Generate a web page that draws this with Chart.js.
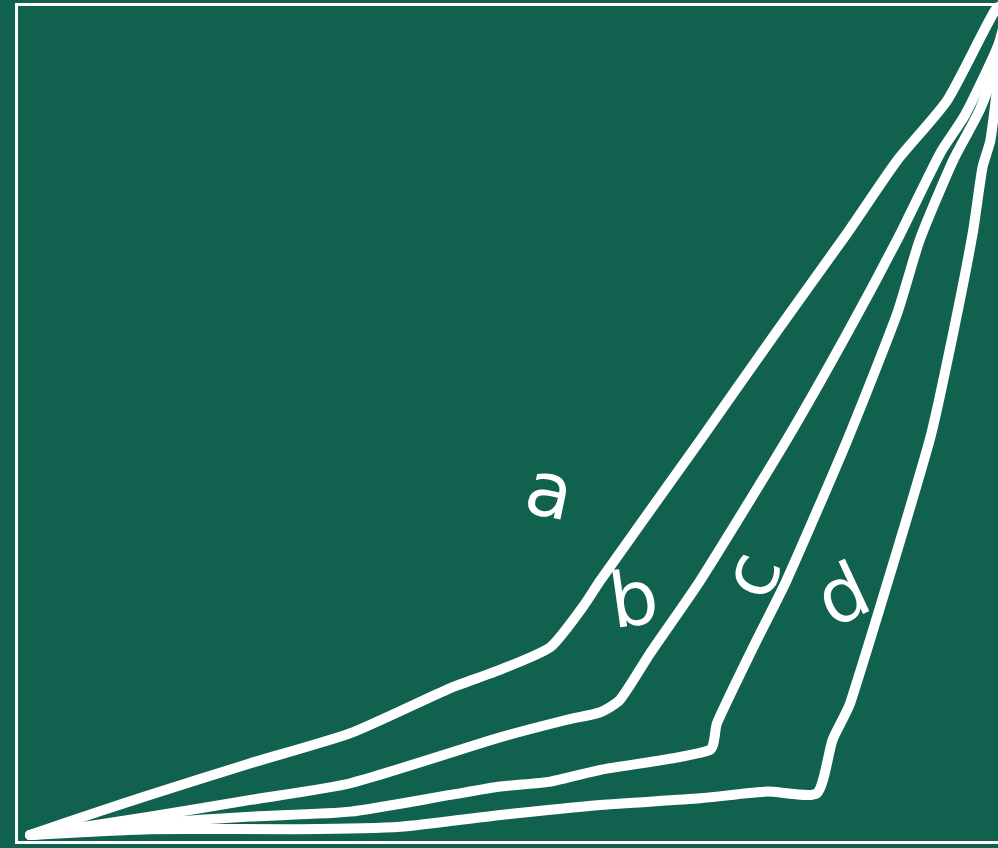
<!DOCTYPE html>
<html>
<head>
<meta charset="utf-8">
<script src="https://cdn.jsdelivr.net/npm/chart.js@4"></script>
<style>
  html, body { margin: 0; padding: 0; background: #10614e; overflow: hidden; width: 998px; height: 848px; }
  .frame { position: absolute; left: 15px; top: 3px; width: 1100px; height: 835px; border: 3px solid #fff; }
  canvas { position: absolute; left: 0; top: 0; }
</style>
</head>
<body>
<div class="frame"></div>
<canvas id="lorenz" width="1012" height="848"></canvas>
<script>
// cumulative share of population (x) vs cumulative share of income (y), in %
const aX = [0, 7, 12.2, 22.5, 32.7, 42.9, 48, 53.1, 56.4, 58.2, 68.4, 76.5, 83.4, 88.5, 93.6, 98.5, 100];
const aY = [0, 2.8, 4.8, 8.6, 12.2, 17.6, 19.8, 22.5, 27.3, 30.5, 47.3, 60.8, 72.1, 80.8, 88, 98.8, 100];

const bX = [0, 12.2, 22.5, 32.7, 48, 54.8, 58.2, 60.2, 63.3, 68.4, 77.2, 83.4, 88.5, 92.9, 95.4, 98.8, 100];
const bY = [0, 2.2, 4.2, 6.2, 11.7, 13.8, 14.7, 16.2, 21.8, 30.5, 47.3, 60.1, 71.3, 81.7, 86.2, 94.6, 100];

const cX = [0, 12.2, 22.5, 32.7, 42.9, 48, 53.1, 58.2, 69.4, 70.1, 73.8, 77.2, 83.4, 88.5, 90.8, 94.2, 96.9, 98.8, 100];
const cY = [0, 1.4, 2.2, 2.8, 4.8, 5.8, 6.4, 7.8, 10.2, 13.4, 22.5, 30.5, 47.3, 62.5, 71.3, 80.8, 86.8, 92.8, 100];

const dX = [0, 12.2, 27.6, 37.8, 48, 58.2, 68.4, 75.2, 80.3, 81.9, 83.7, 91.8, 94.2, 96.2, 97.2, 98, 98.8, 100];
const dY = [0, 0.7, 0.7, 1, 2.4, 3.6, 4.4, 5.2, 5, 11.4, 15.8, 47.3, 60.1, 72.1, 80, 83.2, 90.4, 100];

// hand-written curve names
const labelNames = ["a", "b", "c", "d"];
const labelX = [52.9, 61.7, 74.2, 83.2];
const labelY = [40.5, 27.5, 30.9, 28.1];
const labelTurn = [12, -8, -70, -25];

const toPoints = (xs, ys) => xs.map((x, i) => ({ x: x, y: ys[i] }));

const curveLabels = {
  id: "curveLabels",
  afterDatasetsDraw(chart) {
    const { ctx, scales } = chart;
    ctx.save();
    ctx.fillStyle = "#ffffff";
    ctx.font = "76px 'DejaVu Sans'";
    ctx.textAlign = "center";
    ctx.textBaseline = "middle";
    labelNames.forEach((name, i) => {
      ctx.save();
      ctx.translate(scales.x.getPixelForValue(labelX[i]), scales.y.getPixelForValue(labelY[i]));
      ctx.rotate(labelTurn[i] * Math.PI / 180);
      ctx.fillText(name, 0, 0);
      ctx.restore();
    });
    ctx.restore();
  }
};

const line = (data) => ({
  data: data,
  borderColor: "#ffffff",
  borderWidth: 10,
  borderCapStyle: "round",
  borderJoinStyle: "round",
  pointRadius: 0,
  tension: 0.2,
  clip: false,
  fill: false
});

new Chart(document.getElementById("lorenz"), {
  type: "line",
  data: {
    datasets: [
      line(toPoints(aX, aY)),
      line(toPoints(bX, bY)),
      line(toPoints(cX, cY)),
      line(toPoints(dX, dY))
    ]
  },
  options: {
    responsive: false,
    animation: false,
    layout: { padding: { left: 30, right: 2, top: 0, bottom: 13 } },
    scales: {
      x: { type: "linear", min: 0, max: 100, display: false },
      y: { min: 0, max: 100, display: false }
    },
    plugins: { legend: { display: false }, tooltip: { enabled: false } }
  },
  plugins: [curveLabels]
});
</script>
</body>
</html>
